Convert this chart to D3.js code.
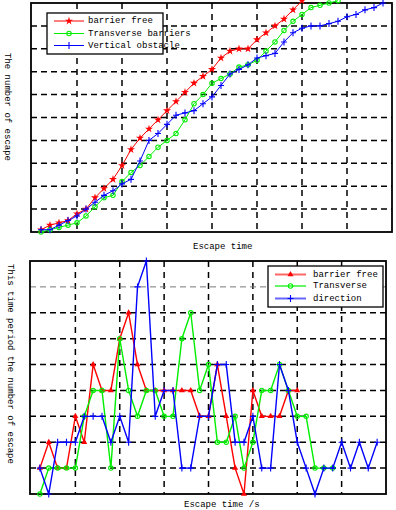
<!DOCTYPE html>
<html>
<head>
<meta charset="utf-8">
<script src="https://cdn.jsdelivr.net/npm/d3@7"></script>
<style>
  body { margin: 0; background: #fff; }
  svg { display: block; font-family: "Liberation Mono", "DejaVu Sans Mono", monospace; font-size: 9px; }
</style>
</head>
<body>
<div id="chart"></div>
<script>
// top panel: cumulative number escaped at each time step (step 1, 2, 3 ...)
const cumFree = [1,3,4,5,8,10,15,19,23,29,36,41,45,49,53,57,61,65,68,71,76,79,80,80,84,87,90,93,97,101];
const cumTransverse = [0,1,2,3,4,7,11,15,16,22,26,29,33,37,40,43,49,56,60,65,67,69,72,73,75,79,83,88,92,95,98,99,100,101];
const cumVertical = [1,1,3,5,7,10,13,16,18,21,23,31,40,43,47,51,52,53,56,59,64,69,71,73,76,77,78,83,87,89,90,90,91,92,94,95,97,98,100];

// bottom panel: number escaped in each time period
const perFree = [1,2,1,1,3,2,5,4,4,6,7,5,4,4,4,4,4,4,3,3,5,3,1,0,4,3,3,3,4,4];
const perTransverse = [0,1,1,1,1,3,4,4,1,6,4,3,4,4,3,3,6,7,4,5,2,2,3,1,2,4,4,5,4,3,3,1,1,1];
const perDirection = [1,0,2,2,2,3,3,3,2,3,2,8,9,3,4,4,1,1,3,3,5,5,2,2,3,1,1,5,4,2,1,0,1,1,2,1,2,1,2];

const xTicks = [5,10,15,20,25,30,35];
const topYTicks = [10,20,30,40,50,60,70,80,90];
const botYTicks = [1,2,3,4,5,6,7,8];

const topNames = ["barrier free", "Transverse barriers", "Vertical obstacle"];
const botNames = ["barrier free", "Transverse", "direction"];

const RED = "#ff0000", GREEN = "#00ee00", BLUE = "#0000ff";

const svg = d3.select("#chart").append("svg")
  .attr("width", 396)
  .attr("height", 510);

const plus = "M-3,0H3M0,-3.5V3.5";

function drawMarker(g, kind, color, x, y) {
  if (kind === "star") {
    g.append("path").attr("transform", `translate(${x},${y})`)
      .attr("d", d3.symbol(d3.symbolStar, 20)()).attr("fill", color);
  } else if (kind === "tri") {
    g.append("path").attr("transform", `translate(${x},${y})`)
      .attr("d", d3.symbol(d3.symbolTriangle, 16)()).attr("fill", color);
  } else if (kind === "circle") {
    g.append("circle").attr("cx", x).attr("cy", y).attr("r", 2.2)
      .attr("fill", "none").attr("stroke", color).attr("stroke-width", 1.1);
  } else {
    g.append("path").attr("transform", `translate(${x},${y})`)
      .attr("d", plus).attr("stroke", color).attr("stroke-width", 1.1).attr("fill", "none");
  }
}

function panel(opt) {
  const g = svg.append("g");
  const x = d3.scaleLinear().domain([0, 40]).range([opt.left + 1, opt.right]);
  const y = d3.scaleLinear().domain(opt.yDomain).range([opt.bottom, opt.top]);

  // grid
  g.selectAll(".vg").data(xTicks).join("line")
    .attr("x1", d => x(d)).attr("x2", d => x(d))
    .attr("y1", opt.top).attr("y2", opt.bottom)
    .attr("stroke", "#000").attr("stroke-width", 1.5).attr("stroke-dasharray", "6,5");
  g.selectAll(".hg").data(opt.yTicks).join("line")
    .attr("x1", opt.left).attr("x2", opt.right)
    .attr("y1", d => y(d)).attr("y2", d => y(d))
    .attr("stroke", d => d === opt.grayTick ? "#777" : "#000")
    .attr("stroke-width", d => d === opt.grayTick ? 1 : 1.5)
    .attr("stroke-dasharray", "6,4");

  // frame
  g.append("rect")
    .attr("x", opt.left).attr("y", opt.top)
    .attr("width", opt.right - opt.left).attr("height", opt.bottom - opt.top)
    .attr("fill", "none").attr("stroke", "#000").attr("stroke-width", 1.8);

  // series
  const line = d3.line().x((d, i) => x(i + 1)).y(d => y(d));
  opt.series.forEach(s => {
    g.append("path").datum(s.values)
      .attr("d", line)
      .attr("fill", "none")
      .attr("stroke", s.color)
      .attr("stroke-width", opt.lineWidth);
    const mg = g.append("g");
    s.values.forEach((v, i) => drawMarker(mg, s.marker, s.color, x(i + 1), y(v)));
  });

  // legend
  const lg = g.append("g");
  lg.append("rect")
    .attr("x", opt.legend.x).attr("y", opt.legend.y)
    .attr("width", opt.legend.w).attr("height", opt.legend.h)
    .attr("fill", "#fff").attr("stroke", "#000").attr("stroke-width", 1.3);
  opt.series.forEach((s, i) => {
    const ly = opt.legend.rows[i];
    lg.append("line")
      .attr("x1", opt.legend.lx1).attr("x2", opt.legend.lx2)
      .attr("y1", ly).attr("y2", ly)
      .attr("stroke", s.color).attr("stroke-width", opt.legend.lw)
      .attr("stroke-opacity", opt.legend.op);
    drawMarker(lg, s.marker, s.color, (opt.legend.lx1 + opt.legend.lx2) / 2, ly);
    lg.append("text")
      .attr("x", opt.legend.tx).attr("y", ly)
      .attr("dominant-baseline", "central")
      .attr("fill", "#000")
      .text(s.name);
  });

  // axis titles
  g.append("text")
    .attr("x", opt.xLabel.x).attr("y", opt.xLabel.y)
    .attr("fill", "#000")
    .text(opt.xLabel.text);
  g.append("text")
    .attr("transform", `translate(${opt.yLabel.x},${opt.yLabel.y}) rotate(90)`)
    .attr("text-anchor", "middle")
    .attr("dominant-baseline", "central")
    .attr("fill", "#000")
    .text(opt.yLabel.text);
}

panel({
  left: 31, right: 392, top: 3, bottom: 232,
  yDomain: [0, 100], yTicks: topYTicks, grayTick: null, lineWidth: 1,
  series: [
    { name: topNames[0], values: cumFree, color: RED, marker: "star" },
    { name: topNames[1], values: cumTransverse, color: GREEN, marker: "circle" },
    { name: topNames[2], values: cumVertical, color: BLUE, marker: "plus" }
  ],
  legend: { x: 47, y: 13, w: 116, h: 41, rows: [21, 33.5, 45.5], lx1: 54, lx2: 84, tx: 88, lw: 1, op: 1 },
  xLabel: { x: 193, y: 249, text: "Escape time" },
  yLabel: { x: 7, y: 107, text: "The number of escape" }
});

panel({
  left: 30, right: 386, top: 261, bottom: 494,
  yDomain: [0, 9], yTicks: botYTicks, grayTick: 8, lineWidth: 1.4,
  series: [
    { name: botNames[0], values: perFree, color: RED, marker: "tri" },
    { name: botNames[1], values: perTransverse, color: GREEN, marker: "circle" },
    { name: botNames[2], values: perDirection, color: BLUE, marker: "plus" }
  ],
  legend: { x: 268, y: 266, w: 115, h: 41, rows: [274.5, 286, 298.5], lx1: 275, lx2: 306, tx: 313, lw: 2, op: 0.6 },
  xLabel: { x: 184, y: 507, text: "Escape time /s" },
  yLabel: { x: 10, y: 364, text: "This time period the number of escape" }
});
</script>
</body>
</html>
